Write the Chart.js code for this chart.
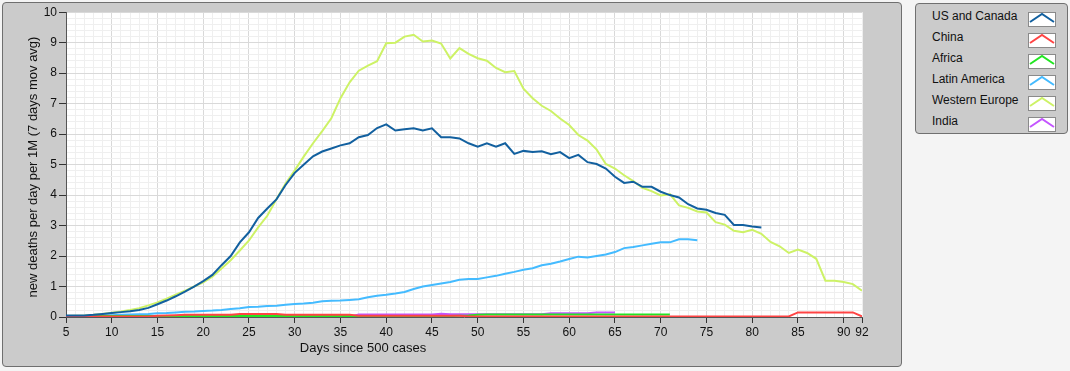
<!DOCTYPE html>
<html>
<head>
<meta charset="utf-8">
<script src="https://cdn.jsdelivr.net/npm/chart.js@4"></script>
<style>
  body { margin:0; background:#f4f4f4; font-family:"Liberation Sans", Arial, sans-serif; }
  #panel { position:absolute; left:2px; top:2px; width:898px; height:363px; border:1px solid #6f6f6f; border-radius:4px; background:#cbcbcb; }
  #legend { position:absolute; left:915px; top:3px; width:151px; height:129px; border:1px solid #707070; border-radius:4px; background:#cbcbcb; }
  .row { position:absolute; left:0; width:151px; height:21px; }
  .row span { position:absolute; left:16px; top:1px; font-size:12px; color:#111; }
  .row svg { position:absolute; left:112px; top:4px; }
</style>
</head>
<body>
<div id="panel"><canvas id="chart" width="898" height="363"></canvas></div>
<div id="legend"></div>
<script>
const firstDay = 5;
const regions = ["US and Canada","China","Africa","Latin America","Western Europe","India"];
const colors = ["#12609f","#ff4444","#22e622","#44bbff","#cdf266","#c455ff"];
const xTickLabels = [5,10,15,20,25,30,35,40,45,50,55,60,65,70,75,80,85,90,92];
const yTickLabels = [0,1,2,3,4,5,6,7,8,9,10];

// days 5..81
const usCanada = [
  0.05,0.05,0.05,0.07,0.10,
  0.13,0.16,0.19,0.23,0.30,0.42,0.54,0.68,0.83,1.00,
  1.18,1.38,1.70,2.00,2.45,2.78,3.25,3.56,3.86,4.33,
  4.73,5.00,5.27,5.43,5.53,5.63,5.70,5.90,5.97,6.20,
  6.32,6.12,6.16,6.19,6.12,6.19,5.90,5.90,5.86,5.70,
  5.59,5.70,5.59,5.70,5.35,5.45,5.41,5.44,5.34,5.41,
  5.21,5.32,5.08,5.02,4.87,4.60,4.40,4.44,4.27,4.27,
  4.11,4.00,3.92,3.70,3.56,3.52,3.41,3.35,3.02,3.02,
  2.97,2.94
];
// days 5..92
const china = [
  0.02,0.02,0.02,0.02,0.02,
  0.02,0.02,0.02,0.02,0.02,0.04,0.05,0.06,0.07,0.07,
  0.07,0.07,0.07,0.07,0.10,0.10,0.10,0.10,0.10,0.07,
  0.07,0.07,0.07,0.07,0.07,0.07,0.07,0.04,0.04,0.04,
  0.04,0.04,0.04,0.04,0.04,0.04,0.04,0.04,0.04,0.02,
  0.02,0.02,0.02,0.02,0.02,0.02,0.02,0.02,0.02,0.02,
  0.02,0.02,0.02,0.02,0.02,0.02,0.02,0.02,0.02,0.02,
  0.02,0.02,0.02,0.02,0.02,0.02,0.02,0.02,0.02,0.02,
  0.02,0.02,0.02,0.02,0.02,0.15,0.15,0.15,0.15,0.15,
  0.15,0.15,0.02
];
// days 5..71
const africa = [
  0.03,0.03,0.03,0.03,0.03,
  0.03,0.03,0.03,0.03,0.03,0.03,0.03,0.03,0.03,0.03,
  0.03,0.03,0.03,0.03,0.03,0.03,0.03,0.03,0.03,0.03,
  0.03,0.03,0.03,0.03,0.03,0.03,0.03,0.03,0.03,0.03,
  0.03,0.03,0.03,0.03,0.03,0.03,0.03,0.03,0.04,0.05,
  0.07,0.08,0.08,0.08,0.08,0.08,0.08,0.08,0.08,0.08,
  0.08,0.08,0.08,0.08,0.08,0.08,0.08,0.08,0.08,0.08,
  0.08,0.08
];
// days 5..74
const latinAmerica = [
  0.02,0.02,0.03,0.04,0.05,
  0.06,0.07,0.08,0.09,0.10,0.12,0.13,0.15,0.17,0.18,
  0.20,0.21,0.23,0.26,0.29,0.33,0.34,0.36,0.37,0.40,
  0.43,0.44,0.47,0.52,0.53,0.54,0.56,0.58,0.65,0.70,
  0.73,0.77,0.82,0.92,1.00,1.05,1.10,1.15,1.22,1.25,
  1.25,1.30,1.35,1.42,1.48,1.55,1.60,1.70,1.75,1.82,
  1.90,1.98,1.95,2.00,2.05,2.13,2.26,2.30,2.35,2.40,
  2.45,2.45,2.55,2.55,2.52
];
// days 5..92
const westernEurope = [
  0.03,0.04,0.05,0.07,0.10,
  0.14,0.18,0.23,0.29,0.38,0.48,0.60,0.73,0.86,1.00,
  1.14,1.32,1.59,1.86,2.18,2.51,2.94,3.32,3.86,4.38,
  4.81,5.27,5.70,6.10,6.52,7.18,7.70,8.08,8.25,8.39,
  8.98,9.00,9.20,9.26,9.04,9.07,8.97,8.48,8.82,8.63,
  8.49,8.41,8.17,8.03,8.07,7.49,7.18,6.93,6.76,6.51,
  6.30,5.97,5.79,5.49,5.02,4.87,4.65,4.46,4.24,4.13,
  3.99,4.03,3.66,3.58,3.46,3.43,3.11,3.03,2.83,2.78,
  2.86,2.73,2.46,2.32,2.10,2.21,2.10,1.91,1.19,1.19,
  1.15,1.08,0.86
];
// days 5..65
const india = [
  0.01,0.01,0.01,0.01,0.01,
  0.01,0.01,0.01,0.01,0.01,0.01,0.01,0.01,0.01,0.01,
  0.01,0.01,0.01,0.01,0.01,0.01,0.01,0.01,0.01,0.01,
  0.01,0.01,0.01,0.01,0.01,0.01,0.01,0.08,0.08,0.08,
  0.08,0.08,0.08,0.08,0.08,0.08,0.11,0.09,0.09,0.09,
  0.09,0.09,0.09,0.09,0.09,0.09,0.09,0.09,0.12,0.12,
  0.12,0.12,0.12,0.15,0.15,0.15
];
const seriesValues = [usCanada, china, africa, latinAmerica, westernEurope, india];

const isMajorY = v => Math.abs(v - Math.round(v)) < 1e-6;

// white plot area + axis titles
const frame = {
  id: "frame",
  beforeDraw(chart){
    const {ctx, chartArea:a} = chart;
    ctx.save();
    ctx.fillStyle = "#fff";
    ctx.fillRect(a.left, a.top, a.right - a.left, a.bottom - a.top);
    ctx.restore();
  },
  afterDraw(chart){
    const ctx = chart.ctx;
    ctx.save();
    ctx.fillStyle = "#111";
    ctx.font = "13px 'Liberation Sans', Arial, sans-serif";
    ctx.textAlign = "center";
    ctx.textBaseline = "middle";
    ctx.fillText("Days since 500 cases", 360, 345);
    ctx.translate(30, 164);
    ctx.rotate(-Math.PI/2);
    ctx.fillText("new deaths per day per 1M (7 days mov avg)", 0, 0);
    ctx.restore();
  }
};

new Chart(document.getElementById("chart"), {
  type: "line",
  data: {
    datasets: regions.map((r, i) => ({
      label: r,
      data: seriesValues[i].map((v, k) => ({x: firstDay + k, y: v})),
      borderColor: colors[i],
      borderWidth: 2,
      pointRadius: 0,
      tension: 0,
      fill: false
    }))
  },
  options: {
    responsive: false,
    animation: false,
    layout: { padding: {top: 6, right: 39, left: 0, bottom: 0} },
    plugins: { legend: {display: false}, tooltip: {enabled: false} },
    scales: {
      x: {
        type: "linear", min: 5, max: 92,
        afterFit: s => { s.height = 49; },
        border: {color: "#555", width: 1},
        grid: {
          color: c => c.tick && c.tick.value % 5 === 0 ? "#d9d9d9" : "#efefef",
          tickColor: c => c.tick && xTickLabels.includes(c.tick.value) ? "#333" : "rgba(0,0,0,0)",
          tickLength: 6
        },
        ticks: {
          stepSize: 1, autoSkip: false, maxRotation: 0, padding: 2,
          color: "#111", font: {size: 12, family: "'Liberation Sans', Arial, sans-serif"},
          callback: v => xTickLabels.includes(v) ? String(v) : ""
        }
      },
      y: {
        min: 0, max: 10,
        afterFit: s => { s.width = 63; },
        border: {color: "#555", width: 1},
        grid: {
          color: c => c.tick && isMajorY(c.tick.value) ? "#d9d9d9" : "#efefef",
          tickColor: c => c.tick && isMajorY(c.tick.value) ? "#333" : "rgba(0,0,0,0)",
          tickLength: 7
        },
        ticks: {
          stepSize: 0.2, autoSkip: false, padding: 2,
          color: "#111", font: {size: 12, family: "'Liberation Sans', Arial, sans-serif"},
          callback: v => isMajorY(v) && yTickLabels.includes(Math.round(v)) ? String(Math.round(v)) : ""
        }
      }
    }
  },
  plugins: [frame]
});

// legend box
const legend = document.getElementById("legend");
regions.forEach((r, i) => {
  const row = document.createElement("div");
  row.className = "row";
  row.style.top = (4 + i*21) + "px";
  row.innerHTML = `<span>${r}</span>
    <svg width="28" height="15"><rect x="0.5" y="0.5" width="27" height="14" fill="#fff" stroke="#8a8a8a"/>
    <polyline points="2,10 14,2 26,10" fill="none" stroke="${colors[i]}" stroke-width="2"/></svg>`;
  legend.appendChild(row);
});
</script>
</body>
</html>
